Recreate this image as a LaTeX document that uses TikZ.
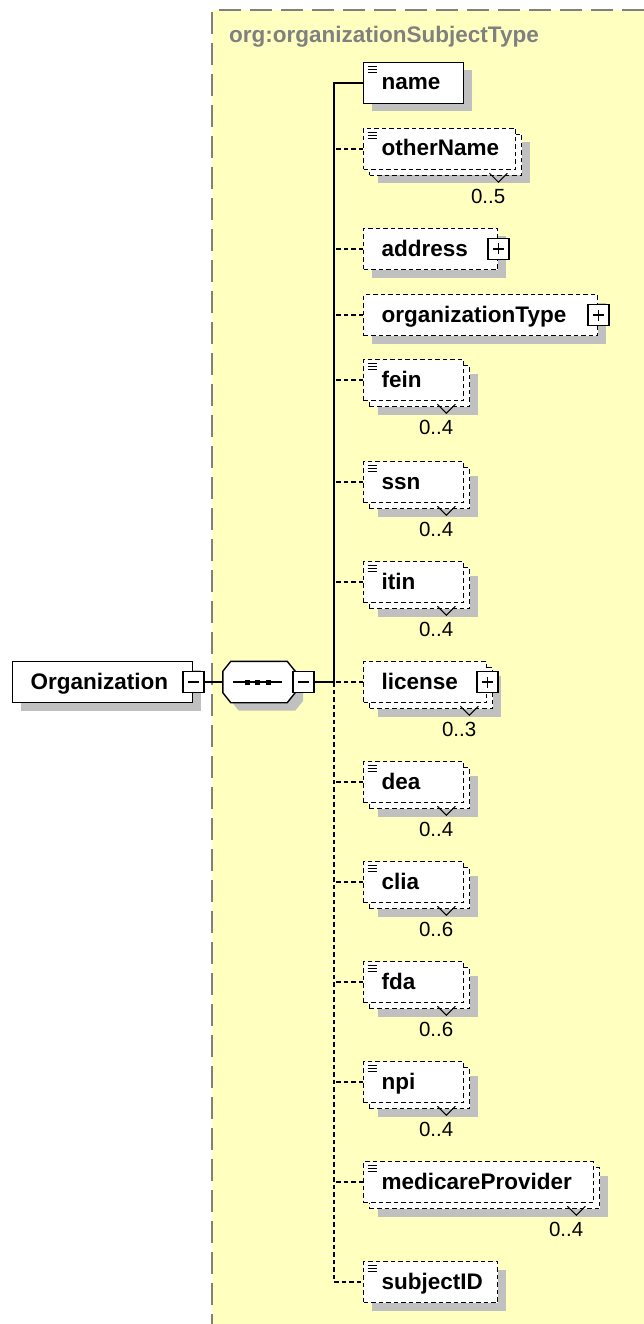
\documentclass[tikz,border=0pt]{standalone}
\usepackage{fontspec}
\setmainfont{Liberation Sans}
\usepackage{tikz}
\usetikzlibrary{positioning}
\usetikzlibrary{shadows}

\definecolor{typefill}{RGB}{255,255,192}
\definecolor{typeline}{RGB}{128,128,128}
\definecolor{shade}{RGB}{192,192,192}

\tikzset{
  elem/.style={draw, fill=white, line width=1.4pt, anchor=west, inner ysep=0pt,
    inner xsep=18pt, minimum height=41pt, text width=#1, align=left,
    text height=14pt, text depth=0pt, font=\fontsize{22.5}{27}\selectfont\bfseries},
  opt/.style={dash pattern=on 4.5pt off 3pt},
  single/.style={general shadow={fill=shade, shadow xshift=8pt, shadow yshift=-8pt}},
  multi/.style={general shadow={fill=shade, shadow xshift=14pt, shadow yshift=-14pt},
    general shadow={draw, fill=white, line width=1.4pt, dash pattern=on 4.5pt off 3pt,
      shadow xshift=6pt, shadow yshift=-6pt}},
  simple/.style={path picture={
      \foreach \k in {4pt,7pt,10pt}
        \draw[solid, line width=1pt] ([xshift=4pt, yshift=-\k]path picture bounding box.north west) -- ++(9pt,0pt);}},
  pm/.style={draw, solid, fill=white, line width=1.4pt, minimum size=21pt, inner sep=0pt},
  minus/.style={pm, path picture={
      \draw[line width=1.4pt] ([xshift=5pt]path picture bounding box.west) -- ([xshift=-5pt]path picture bounding box.east);}},
  plus/.style={pm, path picture={
      \draw[line width=1.4pt] ([xshift=5pt]path picture bounding box.west) -- ([xshift=-5pt]path picture bounding box.east);
      \draw[line width=1.4pt] ([yshift=-5pt]path picture bounding box.north) -- ([yshift=5pt]path picture bounding box.south);}},
  seqbox/.style={minimum width=72pt, minimum height=41pt, inner sep=0pt},
  card/.style={inner sep=0pt, font=\fontsize{20.5}{24}\selectfont},
  notch/.style={line width=1pt, solid},
  conn/.style={line width=1.4pt}
}

\begin{document}
\begin{tikzpicture}[x=1pt, y=-1pt]
    \useasboundingbox (0,0) rectangle (644,1324);

    % complex type area
    \fill[typefill] (212,10) rectangle (644,1324);
    \draw[typeline, line width=2pt, dash pattern=on 22pt off 9pt] (644,10) -- (212,10) -- (212,1324);
    \node[anchor=base west, inner sep=0pt, text=typeline, font=\fontsize{22.5}{27}\selectfont\bfseries] (typename) at (229,43) {org:organizationSubjectType};

    % root and sequence
    \node[elem=144pt, single] (Organization) at (12,682) {Organization};
    \node[minus] (orgminus) at (Organization.east) {};
    \node[seqbox] (seq) at (259,682) {};
    \draw[conn, fill=white, single] ([xshift=8pt]seq.north west) -- ([xshift=-8pt]seq.north east)
        -- ([yshift=-10pt]seq.north east) -- ([yshift=10pt]seq.south east)
        -- ([xshift=-8pt]seq.south east) -- ([xshift=8pt]seq.south west)
        -- ([yshift=10pt]seq.south west) -- ([yshift=-10pt]seq.north west) -- cycle;
    \draw[line width=1.4pt] ([xshift=-26pt]seq.center) -- ([xshift=23pt]seq.center);
    \foreach \d in {-12pt,-2pt,9pt}
        \fill ([xshift=\d]seq.center) +(-2.5pt,-2.5pt) rectangle +(2.5pt,2.5pt);
    \node[minus, right=-3pt of seq] (seqminus) {};
    \coordinate (spine) at (334,682);

    % children
    \node[elem=64pt, single, simple] (name) at (363,83) {name};
    \node[elem=116pt, opt, multi, simple] (otherName) at (363,149) {otherName};
    \node[elem=98pt, opt, single] (address) at (363,249) {address};
    \node[plus] (addressplus) at (address.east) {};
    \node[elem=198pt, opt, single] (organizationType) at (363,315) {organizationType};
    \node[plus] (organizationTypeplus) at (organizationType.east) {};
    \node[elem=64pt, opt, multi, simple] (fein) at (363,380) {fein};
    \node[elem=64pt, opt, multi, simple] (ssn) at (363,482) {ssn};
    \node[elem=64pt, opt, multi, simple] (itin) at (363,582) {itin};
    \node[elem=87pt, opt, multi] (license) at (363,682) {license};
    \node[plus] (licenseplus) at (license.east) {};
    \node[elem=64pt, opt, multi, simple] (dea) at (363,782) {dea};
    \node[elem=64pt, opt, multi, simple] (clia) at (363,882) {clia};
    \node[elem=64pt, opt, multi, simple] (fda) at (363,982) {fda};
    \node[elem=64pt, opt, multi, simple] (npi) at (363,1082) {npi};
    \node[elem=194pt, opt, multi, simple] (medicareProvider) at (363,1182) {medicareProvider};
    \node[elem=98pt, opt, single, simple] (subjectID) at (363,1282) {subjectID};

    % occurrences
    \node[card] (otherNamec) [below left=19pt and 11pt of otherName.south east] {0..5};
    \node[card] (feinc) [below left=19pt and 11pt of fein.south east] {0..4};
    \node[card] (ssnc) [below left=19pt and 11pt of ssn.south east] {0..4};
    \node[card] (itinc) [below left=19pt and 11pt of itin.south east] {0..4};
    \node[card] (licensec) [below left=19pt and 11pt of license.south east] {0..3};
    \node[card] (deac) [below left=19pt and 11pt of dea.south east] {0..4};
    \node[card] (cliac) [below left=19pt and 11pt of clia.south east] {0..6};
    \node[card] (fdac) [below left=19pt and 11pt of fda.south east] {0..6};
    \node[card] (npic) [below left=19pt and 11pt of npi.south east] {0..4};
    \node[card] (medicareProviderc) [below left=19pt and 11pt of medicareProvider.south east] {0..4};

    \draw[notch] ([xshift=-27pt, yshift=-3pt]otherName.south east) -- ++(9pt,-9pt) -- ++(9pt,9pt);
    \draw[notch] ([xshift=-27pt, yshift=-3pt]fein.south east) -- ++(9pt,-9pt) -- ++(9pt,9pt);
    \draw[notch] ([xshift=-27pt, yshift=-3pt]ssn.south east) -- ++(9pt,-9pt) -- ++(9pt,9pt);
    \draw[notch] ([xshift=-27pt, yshift=-3pt]itin.south east) -- ++(9pt,-9pt) -- ++(9pt,9pt);
    \draw[notch] ([xshift=-27pt, yshift=-3pt]license.south east) -- ++(9pt,-9pt) -- ++(9pt,9pt);
    \draw[notch] ([xshift=-27pt, yshift=-3pt]dea.south east) -- ++(9pt,-9pt) -- ++(9pt,9pt);
    \draw[notch] ([xshift=-27pt, yshift=-3pt]clia.south east) -- ++(9pt,-9pt) -- ++(9pt,9pt);
    \draw[notch] ([xshift=-27pt, yshift=-3pt]fda.south east) -- ++(9pt,-9pt) -- ++(9pt,9pt);
    \draw[notch] ([xshift=-27pt, yshift=-3pt]npi.south east) -- ++(9pt,-9pt) -- ++(9pt,9pt);
    \draw[notch] ([xshift=-27pt, yshift=-3pt]medicareProvider.south east) -- ++(9pt,-9pt) -- ++(9pt,9pt);

    % connectors
    \draw[conn] (orgminus) -- (seq);
    \draw[conn] (seqminus) -- (spine);
    \draw[conn] (name) -| (spine);
    \draw[conn, opt] (spine) |- (subjectID);
    \draw[conn, opt] (otherName) -- (otherName -| spine);
    \draw[conn, opt] (address) -- (address -| spine);
    \draw[conn, opt] (organizationType) -- (organizationType -| spine);
    \draw[conn, opt] (fein) -- (fein -| spine);
    \draw[conn, opt] (ssn) -- (ssn -| spine);
    \draw[conn, opt] (itin) -- (itin -| spine);
    \draw[conn, opt] (license) -- (license -| spine);
    \draw[conn, opt] (dea) -- (dea -| spine);
    \draw[conn, opt] (clia) -- (clia -| spine);
    \draw[conn, opt] (fda) -- (fda -| spine);
    \draw[conn, opt] (npi) -- (npi -| spine);
    \draw[conn, opt] (medicareProvider) -- (medicareProvider -| spine);
\end{tikzpicture}
\end{document}
